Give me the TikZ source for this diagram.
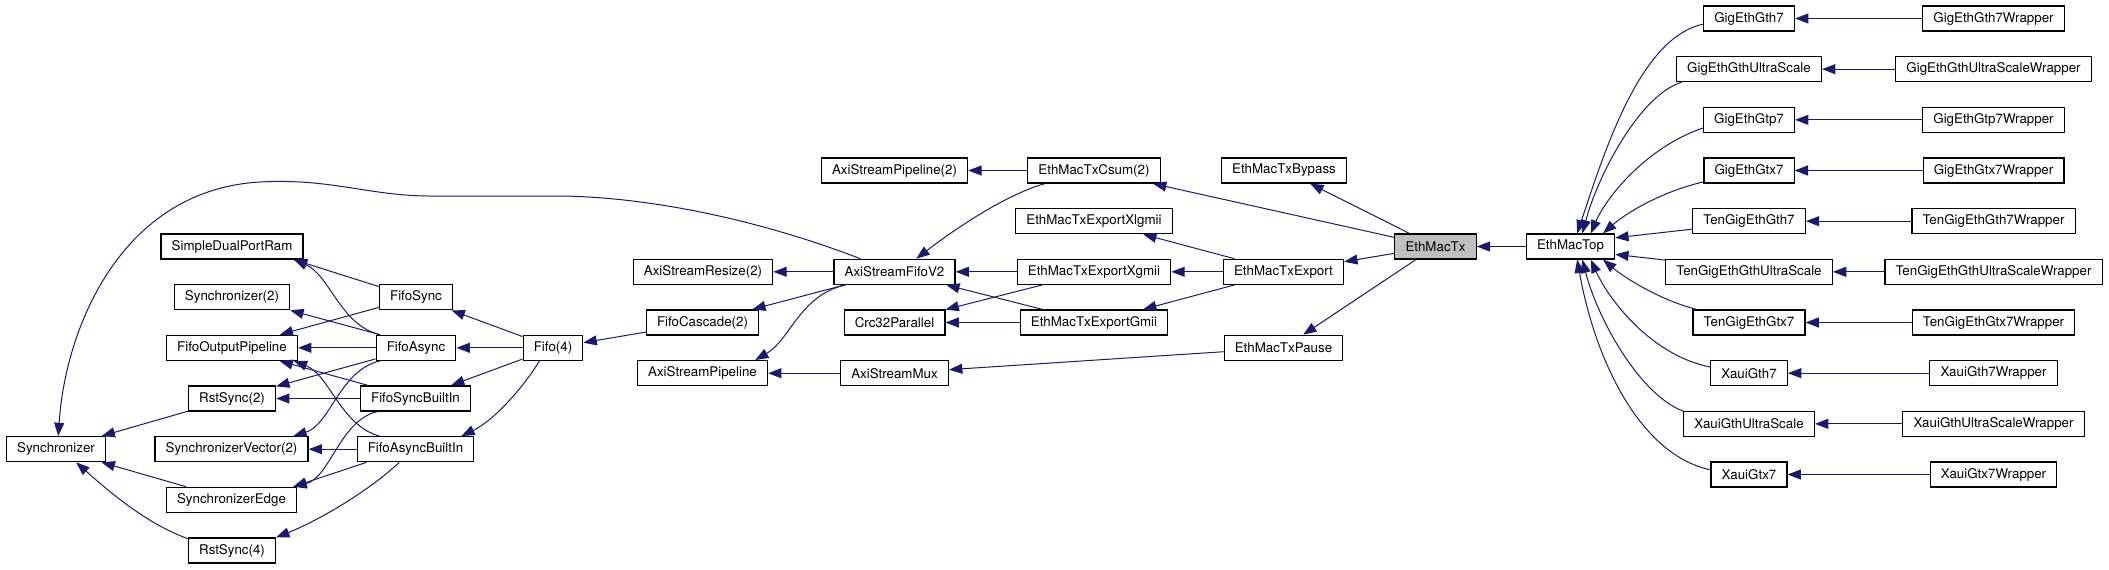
\documentclass[tikz,border=0pt]{standalone}
\usepackage{fontspec}
\setmainfont{TeX Gyre Heros}
\usetikzlibrary{arrows.meta}
\definecolor{edgeblue}{HTML}{191970}
\definecolor{topgray}{HTML}{BFBFBF}
\tikzset{
  box/.style={draw=black, fill=white, line width=0.9pt, inner xsep=8pt,
    inner ysep=0pt, minimum height=18.8pt, font=\fontsize{10}{12}\selectfont},
  dep/.style={draw=edgeblue, line width=0.75pt,
    >={Triangle[length=10pt,width=7.5pt]}, <-},
}
\begin{document}
\begin{tikzpicture}[x=0.75pt,y=-0.75pt]
  \useasboundingbox (0,0) rectangle (2109,569);
  %% synchronizers and fifos
  \node[box] (sync) at (56,449.2) {Synchronizer};
  \node[box] (sdpr) at (232,246.5) {SimpleDualPortRam};
  \node[box] (sync2) at (232,297.2) {Synchronizer(2)};
  \node[box] (fop) at (232,347.8) {FifoOutputPipeline};
  \node[box] (rst2) at (232,398.5) {RstSync(2)};
  \node[box] (syncvec) at (231.5,449.2) {SynchronizerVector(2)};
  \node[box] (syncedge) at (231.5,499.8) {SynchronizerEdge};
  \node[box] (rst4) at (232,550.5) {RstSync(4)};
  \node[box] (fifosync) at (416,297.2) {FifoSync};
  \node[box] (fifoasync) at (416,347.8) {FifoAsync};
  \node[box] (fsbi) at (415.5,398.5) {FifoSyncBuiltIn};
  \node[box] (fabi) at (415.5,449.2) {FifoAsyncBuiltIn};
  \node[box] (fifo4) at (553,347.8) {Fifo(4)};
  %% axi stream
  \node[box] (resize) at (703,271.8) {AxiStreamResize(2)};
  \node[box] (cascade) at (702.5,322.5) {FifoCascade(2)};
  \node[box] (pipe) at (702.5,373.2) {AxiStreamPipeline};
  \node[box] (pipe2) at (894.5,170.5) {AxiStreamPipeline(2)};
  \node[box] (fifov2) at (894.5,271.8) {AxiStreamFifoV2};
  \node[box] (crc) at (894.5,322.5) {Crc32Parallel};
  \node[box] (mux) at (894.5,373.2) {AxiStreamMux};
  %% eth mac tx
  \node[box] (csum) at (1094,170.5) {EthMacTxCsum(2)};
  \node[box] (xlgmii) at (1094,221.2) {EthMacTxExportXlgmii};
  \node[box] (xgmii) at (1094,271.8) {EthMacTxExportXgmii};
  \node[box] (gmii) at (1094,322.5) {EthMacTxExportGmii};
  \node[box] (bypass) at (1284,170.5) {EthMacTxBypass};
  \node[box] (export) at (1283.5,271.8) {EthMacTxExport};
  \node[box] (pause) at (1283.5,347.8) {EthMacTxPause};
  \node[box,fill=topgray] (mactx) at (1435.5,246.5) {EthMacTx};
  \node[box] (mactop) at (1570.5,246.5) {EthMacTop};
  %% cores and wrappers
  \foreach \core [count=\r from 0] in {GigEthGth7,GigEthGthUltraScale,GigEthGtp7,
      GigEthGtx7,TenGigEthGth7,TenGigEthGthUltraScale,TenGigEthGtx7,XauiGth7,
      XauiGthUltraScale,XauiGtx7}{
    \node[box] (\core) at (1749,{18.5+50.667*\r}) {\core};
    \node[box] (\core-w) at (1993.5,{18.5+50.667*\r}) {\core Wrapper};
    \draw[dep] (\core) -- (\core-w);
  }
  %% synchronizer users
  \draw[dep] (sync.80) .. controls (65,330) and (120,190) .. (260,182)
    .. controls (330,178) and (370,196) .. (430,196) -- (560,196)
    .. controls (650,197) and (760,220) .. (fifov2.159);
  \draw[dep] (sync) -- (rst2);
  \draw[dep] (sync) -- (syncedge);
  \draw[dep] (sync.-33) .. controls (115,497) and (150,525) .. (rst4.165);
  %% fifo internals
  \draw[dep] (sdpr.-12) -- (fifosync.164);
  \draw[dep] (sdpr.-12) .. controls (330,275) and (340,325) .. (fifoasync.160);
  \draw[dep] (sync2.south east) -- (fifoasync.160);
  \draw[dep] (fop) -- (fifosync);
  \draw[dep] (fop) -- (fifoasync);
  \draw[dep] (fop) -- (fsbi);
  \draw[dep] (fop.-12) .. controls (330,375) and (340,425) .. (fabi.160);
  \draw[dep] (rst2) -- (fifoasync);
  \draw[dep] (rst2) -- (fsbi);
  \draw[dep] (syncvec.12) .. controls (330,425) and (340,370) .. (fifoasync.-160);
  \draw[dep] (syncvec) -- (fabi);
  \draw[dep] (syncedge.12) .. controls (330,478) and (340,420) .. (fsbi.-161);
  \draw[dep] (syncedge.12) -- (fabi.-165);
  \draw[dep] (rst4.north east) .. controls (320,520) and (370,490) .. (fabi.-141);
  %% fifo(4)
  \draw[dep] (fifosync) -- (fifo4);
  \draw[dep] (fifoasync) -- (fifo4);
  \draw[dep] (fsbi) -- (fifo4);
  \draw[dep] (fabi.16) .. controls (495,420) and (525,385) .. (fifo4.-136);
  \draw[dep] (fifo4) -- (cascade);
  %% axi stream
  \draw[dep] (resize) -- (fifov2);
  \draw[dep] (cascade) -- (fifov2);
  \draw[dep] (pipe.14) .. controls (790,340) and (800,295) .. (fifov2.-165);
  \draw[dep] (pipe) -- (mux);
  \draw[dep] (pipe2) -- (csum);
  \draw[dep] (fifov2.31) .. controls (960,225) and (1010,193) .. (csum.-165);
  \draw[dep] (fifov2) -- (xgmii);
  \draw[dep] (fifov2) -- (gmii);
  \draw[dep] (crc) -- (xgmii);
  \draw[dep] (crc) -- (gmii);
  \draw[dep] (mux) -- (pause);
  %% eth mac tx
  \draw[dep] (csum) -- (mactx);
  \draw[dep] (bypass) -- (mactx);
  \draw[dep] (xlgmii) -- (export);
  \draw[dep] (xgmii) -- (export);
  \draw[dep] (gmii) -- (export);
  \draw[dep] (export) -- (mactx);
  \draw[dep] (pause) -- (mactx);
  \draw[dep] (mactx) -- (mactop);
  %% eth mac top users
  \draw[dep] (mactop.63) .. controls (1605,150) and (1640,38) .. (GigEthGth7.-173);
  \draw[dep] (mactop.48) .. controls (1598,175) and (1640,95) .. (GigEthGthUltraScale.-169);
  \draw[dep] (mactop.33) .. controls (1606,198) and (1645,148) .. (GigEthGtp7.-170);
  \draw[dep] (mactop.22) .. controls (1625,214) and (1660,192) .. (GigEthGtx7.-166);
  \draw[dep] (mactop.11) -- (TenGigEthGth7.-172);
  \draw[dep] (mactop.-10) -- (TenGigEthGthUltraScale.172);
  \draw[dep] (mactop.-22) .. controls (1625,278) and (1660,300) .. (TenGigEthGtx7.166);
  \draw[dep] (mactop.-33) .. controls (1608,298) and (1650,355) .. (XauiGth7.171);
  \draw[dep] (mactop.-48) .. controls (1598,320) and (1640,395) .. (XauiGthUltraScale.169);
  \draw[dep] (mactop.-63) .. controls (1595,360) and (1640,455) .. (XauiGtx7.173);
\end{tikzpicture}
\end{document}
